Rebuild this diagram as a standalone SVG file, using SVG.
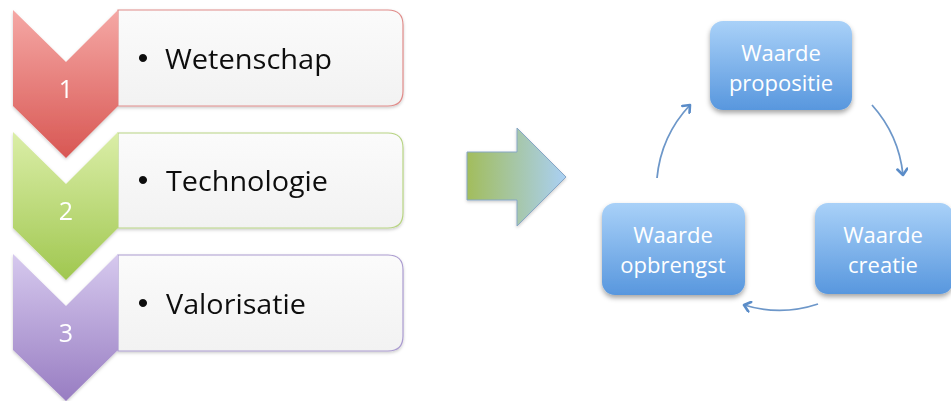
<svg xmlns="http://www.w3.org/2000/svg" width="951" height="401" viewBox="0 0 951 401">
<defs>
<linearGradient id="gRed" x1="0" y1="0" x2="0" y2="1"><stop offset="0" stop-color="#f5a8a5"/><stop offset="1" stop-color="#d85753"/></linearGradient>
<linearGradient id="gGreen" x1="0" y1="0" x2="0" y2="1"><stop offset="0" stop-color="#dbeea8"/><stop offset="1" stop-color="#a0c750"/></linearGradient>
<linearGradient id="gPurple" x1="0" y1="0" x2="0" y2="1"><stop offset="0" stop-color="#d6c9ee"/><stop offset="1" stop-color="#987dc2"/></linearGradient>
<linearGradient id="gBox" x1="0" y1="0" x2="0" y2="1"><stop offset="0" stop-color="#fbfbfb"/><stop offset="1" stop-color="#f2f2f2"/></linearGradient>
<linearGradient id="gBlue" x1="0" y1="0" x2="0" y2="1"><stop offset="0" stop-color="#a9d1f8"/><stop offset="1" stop-color="#5897de"/></linearGradient>
<linearGradient id="gArrow" x1="0" y1="0" x2="1" y2="0"><stop offset="0" stop-color="#a2bd5c"/><stop offset="1" stop-color="#aad0f4"/></linearGradient>
<filter id="sh" x="-20%" y="-20%" width="140%" height="150%"><feDropShadow dx="0" dy="3" stdDeviation="2.5" flood-color="#000" flood-opacity="0.35"/></filter>
<filter id="sh2" x="-20%" y="-20%" width="140%" height="150%"><feDropShadow dx="0" dy="1.5" stdDeviation="1.5" flood-color="#000" flood-opacity="0.2"/></filter>
<marker id="ah" markerWidth="12" markerHeight="12" refX="8" refY="6" orient="auto" markerUnits="userSpaceOnUse"><path d="M2,1 L8,6 L2,11" fill="none" stroke="#5a8cc8" stroke-width="2.6" stroke-linecap="round" stroke-linejoin="round"/></marker>
</defs>
<style>
.lbl{font-family:"Open Sans","Liberation Sans",sans-serif;font-size:28px;fill:#111}
.bul{font-family:"Liberation Sans",sans-serif;font-size:30px;fill:#111;text-anchor:middle}
.num{font-family:"Open Sans","Liberation Sans",sans-serif;font-size:25px;fill:#fff;text-anchor:middle}
.btxt{font-family:"Open Sans","Liberation Sans",sans-serif;font-size:22px;fill:#fff;text-anchor:middle}
.conn{fill:none;stroke:#6d97c9;stroke-width:1.8}
</style>

<g id="step1" filter="url(#sh2)">
<path d="M118,10 H388 Q403,10 403,25 V91 Q403,106 388,106 H118 Z" fill="url(#gBox)" stroke="#e08c8a" stroke-width="1.2"/>
<path d="M13,10 L66,62 L118,10 V106 L66,158 L13,106 Z" fill="url(#gRed)"/>
<text class="num" x="66" y="98">1</text>
<text class="bul" x="143" y="68">•</text>
<text class="lbl" x="165" y="69" textLength="167" lengthAdjust="spacingAndGlyphs">Wetenschap</text>
</g>

<g id="step2" filter="url(#sh2)">
<path d="M118,133 H388 Q403,133 403,148 V213 Q403,228 388,228 H118 Z" fill="url(#gBox)" stroke="#b8d484" stroke-width="1.2"/>
<path d="M13,132 L66,184 L118,132 V228 L66,280 L13,228 Z" fill="url(#gGreen)"/>
<text class="num" x="66" y="220">2</text>
<text class="bul" x="143" y="190">•</text>
<text class="lbl" x="166" y="191" textLength="162" lengthAdjust="spacingAndGlyphs">Technologie</text>
</g>

<g id="step3" filter="url(#sh2)">
<path d="M118,255 H388 Q403,255 403,270 V336 Q403,351 388,351 H118 Z" fill="url(#gBox)" stroke="#ab9cd0" stroke-width="1.2"/>
<path d="M13,254 L66,306 L118,254 V350 L66,401 L13,350 Z" fill="url(#gPurple)"/>
<text class="num" x="66" y="342">3</text>
<text class="bul" x="143" y="313">•</text>
<text class="lbl" x="166" y="314" textLength="140" lengthAdjust="spacingAndGlyphs">Valorisatie</text>
</g>

<g id="bigArrow" filter="url(#sh2)">
<path d="M467,152 H517 V128 L566,177 L517,226 V200 H467 Z" fill="url(#gArrow)" stroke="#86a6c6" stroke-width="1"/>
</g>

<g id="propositie">
<rect x="710" y="21" width="142" height="89" rx="13" fill="url(#gBlue)" filter="url(#sh)"/>
<text class="btxt" x="781" y="61">Waarde</text>
<text class="btxt" x="781" y="91">propositie</text>
</g>

<g id="creatie">
<rect x="815" y="203" width="138" height="91" rx="13" fill="url(#gBlue)" filter="url(#sh)"/>
<text class="btxt" x="883" y="243">Waarde</text>
<text class="btxt" x="883" y="273">creatie</text>
</g>

<g id="opbrengst">
<rect x="602" y="203" width="143" height="92" rx="13" fill="url(#gBlue)" filter="url(#sh)"/>
<text class="btxt" x="673" y="243">Waarde</text>
<text class="btxt" x="673" y="273">opbrengst</text>
</g>

<g id="connectors">
<path class="conn" d="M657,178 A124,124 0 0 1 690,105" marker-end="url(#ah)"/>
<path class="conn" d="M872,105 A124,124 0 0 1 903,175" marker-end="url(#ah)"/>
<path class="conn" d="M818,304 A122,122 0 0 1 744,305" marker-end="url(#ah)"/>
</g>
</svg>
